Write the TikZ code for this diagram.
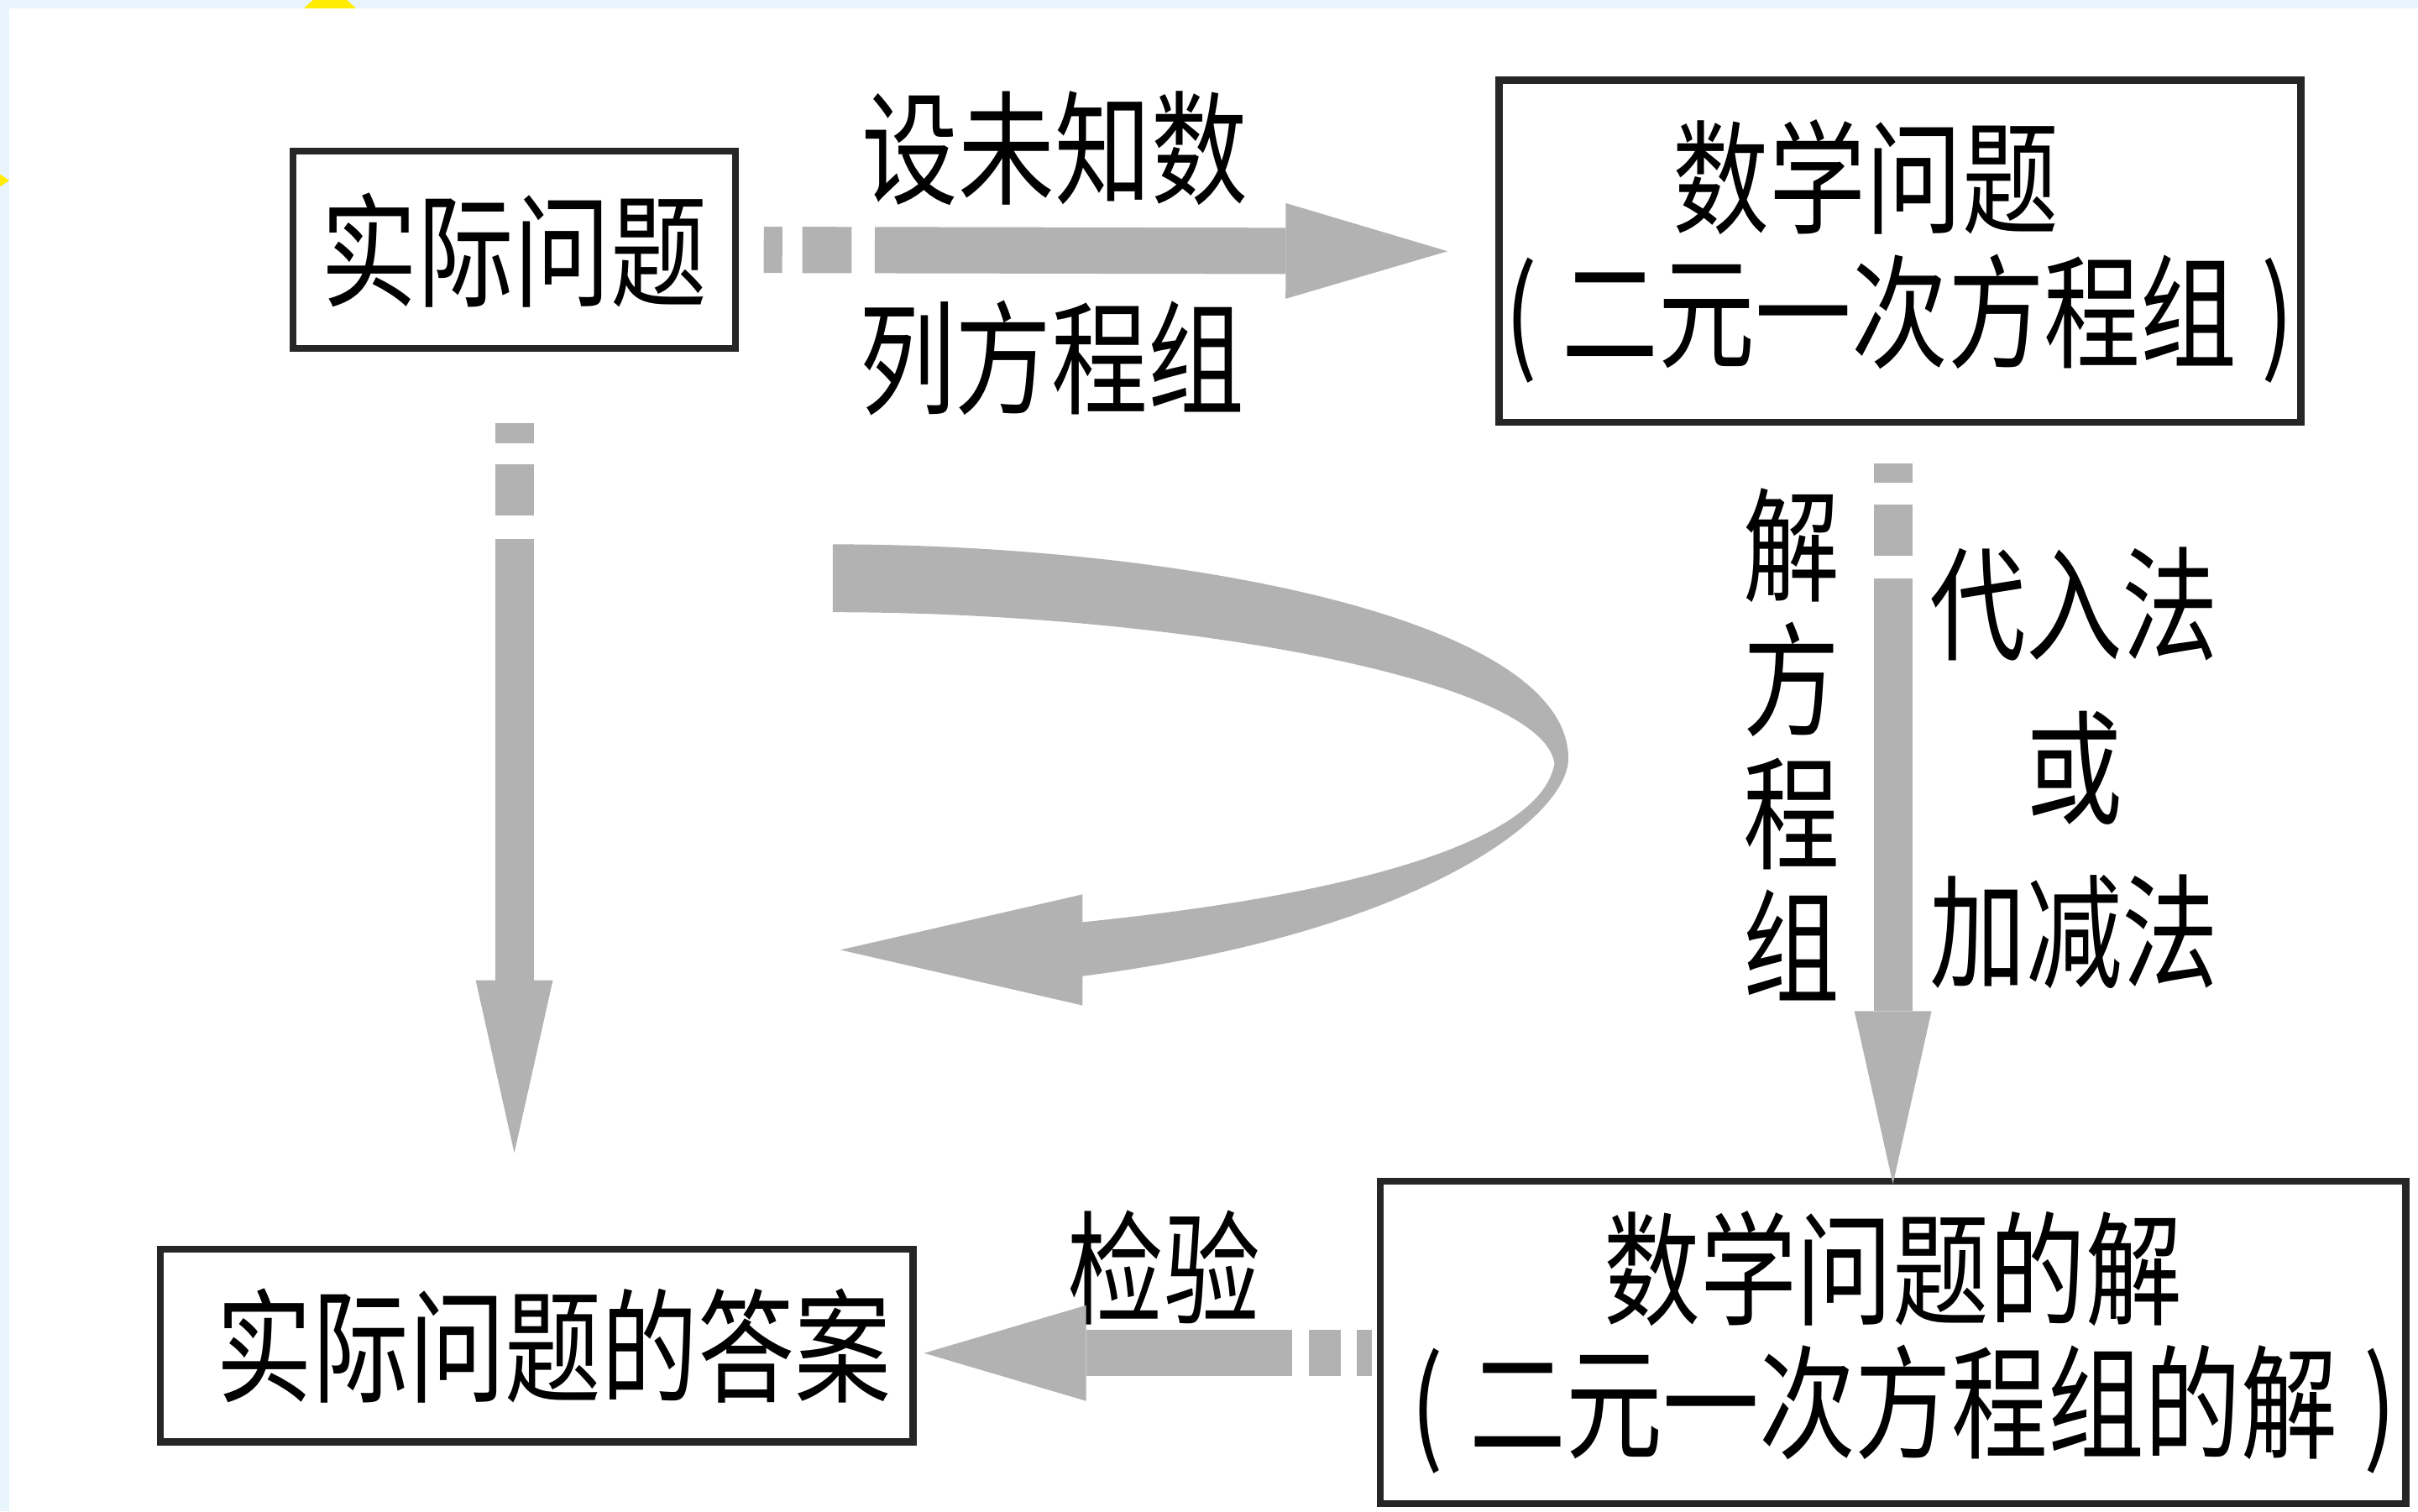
\documentclass[tikz,border=0pt]{standalone}
\usepackage{fontspec}
\newfontfamily\cjk[FakeStretch=0.78]{Noto Sans CJK SC}
\usetikzlibrary{arrows.meta}
\definecolor{bgblue}{RGB}{232,245,253}
\definecolor{arrgray}{RGB}{178,178,178}
\definecolor{markyellow}{RGB}{255,236,0}

\begin{document}
\begin{tikzpicture}[
  font=\cjk\fontsize{22.8pt}{24.7pt}\selectfont,
  box/.style={draw=black!85,line width=1.3pt,inner sep=0pt,align=center},
  flowh/.style={draw=arrgray,line width=0.30cm,
    dash pattern=on 0.12cm off 0.13cm on 0.32cm off 0.15cm on 30cm off 0cm,
    -{Triangle[length=1.05cm,width=0.62cm,line width=0pt]}},
  flowv/.style={draw=arrgray,line width=0.25cm,
    dash pattern=on 0.13cm off 0.14cm on 0.33cm off 0.15cm on 30cm off 0cm,
    -{Triangle[length=1.12cm,width=0.50cm,line width=0pt]}},
  flowb/.style={flowh,dash pattern=on 0.10cm off 0.10cm on 0.21cm off 0.11cm on 30cm off 0cm}
]
\useasboundingbox (0,0) rectangle (15.68,9.80);

%background
\fill[bgblue] (0,0) rectangle (15.68,9.80);
\fill[markyellow] (2.03,9.80) -- (2.25,9.80) -- (2.31,9.745) -- (1.97,9.745) -- cycle;
\fill[markyellow] (0,8.67) -- (0.06,8.63) -- (0,8.59) -- cycle;
\fill[white] (0.06,0) rectangle (15.68,9.745);

%boxes
\node[box,minimum width=2.87cm,minimum height=1.28cm] (real) at (3.335,8.18)
  {\raisebox{-0.05cm}{实际问题}};
\node[box,minimum width=5.20cm,minimum height=2.22cm] (math) at (12.32,8.17)
  {数学问题\hspace*{0.44cm}\\(\hspace{0.16cm}二元一次方程组\hspace{0.16cm})};
\node[box,minimum width=6.65cm,minimum height=2.09cm] (msol) at (12.275,1.095)
  {数学问题的解\\\hspace*{0.14cm}(\hspace{0.17cm}二元一次方程组的解\hspace{0.17cm})};
\node[box,minimum width=4.88cm,minimum height=1.25cm] (answer) at (3.48,1.075)
  {\hspace*{0.22cm}实际问题的答案};

%labels
\node (lset) at (6.84,8.84) {设未知数};
\node (llie) at (6.82,7.48) {列方程组};
\node[align=center] (lsolve) at (11.62,4.97) {解\\方\\程\\组};
\node[align=center,font=\cjk\fontsize{22.8pt}{30.2pt}\selectfont] (lmeth) at (13.45,4.82)
  {代入法\\或\\加减法};
\node (lcheck) at (7.55,1.58) {检验};

%arrows
\draw[flowh,shorten <=0.16cm,shorten >=0.31cm] (real.east) -- (math.west);
\draw[flowv,shorten <=0.46cm,shorten >=0.60cm] (real.south) -- (real.south |- answer.north);
\draw[flowv,shorten <=0.24cm,shorten >=-0.04cm] (math.south -| msol.north) -- (msol.north);
\draw[flowb,shorten <=0.03cm,shorten >=0.05cm] ([yshift=-0.07cm]msol.west)
  -- ([yshift=-0.07cm]msol.west -| answer.east);

%back arrow
\fill[arrgray] (5.40,6.27) .. controls (7.60,6.27) and (10.17,5.80) .. (10.17,4.88)
  .. controls (10.17,4.50) and (9.20,3.75) .. (7.02,3.47)
  -- (7.02,3.28) -- (5.45,3.64) -- (7.02,4.00) -- (7.02,3.82)
  .. controls (8.80,4.00) and (10.00,4.35) .. (10.08,4.85)
  .. controls (10.00,5.40) and (7.60,5.83) .. (5.40,5.83) -- cycle;

\end{tikzpicture}
\end{document}
